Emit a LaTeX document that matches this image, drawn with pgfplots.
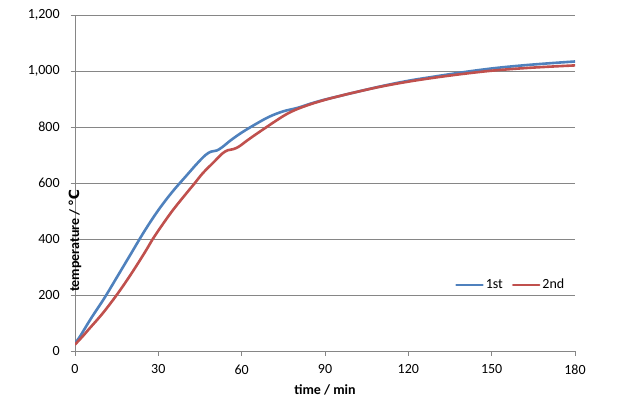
\documentclass[border=0pt]{standalone}
\usepackage{pgfplots}
\pgfplotsset{compat=1.18}
\usepackage{fontspec}
\setmainfont{Carlito}
\newfontfamily\dejavu{DejaVu Sans}
\definecolor{s1}{HTML}{4F81BD}
\definecolor{s2}{HTML}{C0504D}
\definecolor{axgray}{HTML}{868686}
\begin{document}
\fontsize{14bp}{16bp}\selectfont
\begin{tikzpicture}
\useasboundingbox (0,0) rectangle (624bp,414bp);
\begin{axis}[
 at={(75bp,63bp)}, anchor=south west,
 scale only axis, width=500bp, height=336bp,
 xmin=0, xmax=180, ymin=0, ymax=1200,
 xtick={0,30,...,180}, ytick={0,200,...,1200},
 axis lines*=left,
 axis line style={-, draw=axgray, line width=0.8bp},
 ymajorgrids, grid style={draw=axgray, line width=0.8bp},
 tick align=outside, major tick length=4.5bp,
 tick style={draw=axgray, line width=0.8bp},
 /pgf/number format/assume math mode=true,
 /pgf/number format/1000 sep={,},
 ticklabel style={font=\fontsize{14bp}{16bp}\selectfont, text=black},
 xticklabel style={anchor=center, yshift=-14bp},
 yticklabel style={anchor=east, xshift=-6bp},
 xlabel={\bfseries time / min},
 ylabel={\bfseries temperature / {\dejavu\bfseries ℃}},
 xlabel style={at={(axis description cs:0.5,0)}, anchor=center, yshift=-39bp, font=\fontsize{14bp}{16bp}\selectfont},
 ylabel style={at={(axis description cs:0,0.5)}, anchor=center, xshift=-57.5bp, font=\fontsize{14bp}{16bp}\selectfont},
 legend columns=2,
 legend style={at={(0.76,0.196)}, anchor=west, draw=none, fill=none,
   font=\fontsize{14bp}{16bp}\selectfont, inner sep=0pt,
   /tikz/every even column/.append style={column sep=7bp}},
 legend image code/.code={\draw[#1, line width=2.6bp] (0bp,0bp) -- (26bp,0bp);},
 every axis plot/.append style={line width=2.6bp, line join=round, line cap=round},
]
\addplot[s1, smooth, tension=0.6] coordinates {
(0,27) (2,55) (4,88) (6,120) (8,150) (10,180) (12,212) (15,262) (20,345)
(25,428) (30,503) (35,568) (40,625) (44,670) (47,700) (49,712) (51,716)
(53,728) (56,752) (60,780) (65,810) (70,837) (75,856) (80,868) (85,884)
(90,898) (95,910) (100,922) (110,945) (120,965) (130,981) (140,996)
(150,1009) (160,1019) (170,1027) (180,1034)
};
\addlegendentry{1st}
\addplot[s2, smooth, tension=0.6] coordinates {
(0,23) (3,55) (5,78) (10,135) (15,200) (20,272) (25,350) (28,400) (30,430)
(35,500) (40,562) (43,598) (46,635) (50,675) (53,705) (55,717) (57,721)
(59,730) (62,752) (65,773) (69,800) (72,820) (76,845) (80,864) (85,882)
(90,897) (95,910) (100,922) (110,944) (120,962) (130,977) (140,990)
(150,1001) (160,1009) (170,1015) (180,1020)
};
\addlegendentry{2nd}
\end{axis}
\end{tikzpicture}
\end{document}
